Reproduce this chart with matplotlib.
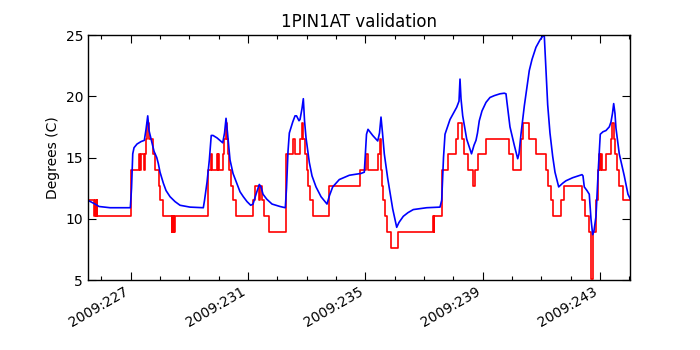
import matplotlib
matplotlib.use("Agg")
import matplotlib.pyplot as plt
from matplotlib.ticker import MultipleLocator, FuncFormatter

# Day-of-year 2009 (fractional) and temperature (deg C)
telem_days = [225.552, 225.767, 225.801, 225.818, 225.842, 225.859, 227.017, 227.300, 227.334,
              227.358, 227.470, 227.494, 227.528, 227.562, 227.620, 227.756, 227.835, 227.954,
              228.015, 228.118, 228.404, 228.424, 228.448, 228.472, 228.492, 228.516, 229.624,
              229.743, 229.777, 229.937, 229.964, 229.992, 230.015, 230.141, 230.186, 230.237,
              230.271, 230.312, 230.366, 230.424, 230.503, 230.595, 231.164, 231.252, 231.361,
              231.395, 231.481, 231.549, 231.709, 232.281, 232.527, 232.605, 232.775, 232.833,
              232.888, 232.946, 233.004, 233.058, 233.116, 233.218, 233.746, 234.820, 235.024,
              235.082, 235.423, 235.484, 235.518, 235.535, 235.569, 235.613, 235.682, 235.729,
              235.876, 236.125, 237.297, 237.324, 237.351, 237.613, 237.828, 238.090, 238.148,
              238.295, 238.353, 238.489, 238.659, 238.748, 238.830, 239.113, 239.886, 240.022,
              240.305, 240.384, 240.568, 240.816, 241.157, 241.215, 241.327, 241.385, 241.668,
              241.780, 242.384, 242.496, 242.632, 242.707, 242.775, 242.861, 242.939, 242.980,
              243.014, 243.031, 243.055, 243.201, 243.372, 243.406, 243.491, 243.518, 243.576,
              243.654, 243.791, 244.053]
telem_temps = [11.5, 10.2, 11.5, 10.2, 11.5, 10.2, 14.0, 15.3, 14.0,
               15.3, 14.0, 15.3, 16.5, 17.8, 16.5, 15.3, 14.0, 12.7,
               11.5, 10.2, 8.9, 10.2, 8.9, 10.2, 8.9, 10.2, 14.0,
               15.3, 14.0, 15.3, 14.0, 15.3, 14.0, 15.3, 16.5, 17.8,
               16.5, 15.3, 14.0, 12.7, 11.5, 10.2, 11.5, 12.7, 11.5,
               12.7, 11.5, 10.2, 8.9, 15.3, 16.5, 15.3, 16.5, 17.8,
               16.5, 15.3, 14.0, 12.7, 11.5, 10.2, 12.7, 14.0, 15.3,
               14.0, 15.3, 16.5, 15.3, 14.0, 12.7, 11.5, 10.2, 8.9,
               7.6, 8.9, 10.2, 8.9, 10.2, 14.0, 15.3, 16.5, 17.8,
               16.5, 15.3, 14.0, 12.7, 14.0, 15.3, 16.5, 15.3, 14.0,
               16.5, 17.8, 16.5, 15.3, 14.0, 12.7, 11.5, 10.2, 11.5,
               12.7, 11.5, 10.2, 8.9, 5.1, 8.9, 11.5, 14.0, 15.3,
               14.0, 15.3, 14.0, 15.3, 16.5, 17.8, 16.5, 15.3, 14.0,
               12.7, 11.5, 11.5]

model_days = [225.552, 225.790, 225.927, 226.302, 226.993, 227.034, 227.075, 227.119, 227.221,
              227.358, 227.470, 227.528, 227.586, 227.630, 227.722, 227.801, 227.893, 227.947,
              228.005, 228.118, 228.210, 228.346, 228.516, 228.687, 229.027, 229.480, 229.521,
              229.607, 229.685, 229.750, 229.811, 229.947, 230.141, 230.203, 230.254, 230.305,
              230.390, 230.492, 230.618, 230.731, 230.843, 230.969, 231.095, 231.174, 231.276,
              231.388, 231.446, 231.515, 231.641, 231.821, 232.094, 232.274, 232.315, 232.366,
              232.411, 232.527, 232.605, 232.656, 232.741, 232.775, 232.843, 232.888, 232.929,
              232.980, 233.092, 233.184, 233.320, 233.491, 233.695, 233.780, 233.889, 234.114,
              234.455, 234.854, 234.966, 235.007, 235.041, 235.092, 235.252, 235.423, 235.484,
              235.535, 235.586, 235.647, 235.763, 235.934, 236.070, 236.148, 236.295, 236.455,
              236.636, 237.092, 237.545, 237.603, 237.665, 237.716, 237.886, 238.114, 238.193,
              238.227, 238.261, 238.319, 238.455, 238.619, 238.704, 238.772, 238.823, 238.884,
              238.976, 239.113, 239.249, 239.395, 239.590, 239.736, 239.794, 239.828, 239.930,
              240.077, 240.193, 240.237, 240.305, 240.418, 240.588, 240.680, 240.816, 240.953,
              241.045, 241.099, 241.140, 241.215, 241.293, 241.385, 241.464, 241.590, 241.726,
              241.838, 242.067, 242.384, 242.418, 242.462, 242.554, 242.632, 242.690, 242.748,
              242.792, 242.861, 242.939, 243.007, 243.099, 243.201, 243.314, 243.372, 243.423,
              243.464, 243.508, 243.542, 243.654, 243.825, 243.951, 244.053]
model_temps = [11.5, 11.2, 11.0, 10.9, 10.9, 12.5, 15.3, 15.8, 16.1,
               16.3, 16.4, 17.3, 18.4, 17.2, 16.3, 15.5, 15.0, 14.5,
               13.8, 12.9, 12.3, 11.8, 11.4, 11.1, 10.95, 10.9, 11.5,
               13.0, 14.8, 16.8, 16.8, 16.6, 16.2, 17.0, 18.2, 17.0,
               14.8, 13.7, 12.9, 12.2, 11.8, 11.4, 11.1, 11.2, 12.0,
               12.8, 12.6, 12.0, 11.6, 11.2, 11.0, 10.9, 12.5, 15.5,
               17.0, 17.9, 18.4, 18.4, 18.0, 18.1, 19.0, 19.8, 18.0,
               16.6, 14.6, 13.5, 12.6, 11.8, 11.2, 11.9, 12.6, 13.2,
               13.55, 13.7, 13.8, 15.5, 16.9, 17.3, 16.8, 16.35, 17.0,
               18.3, 17.0, 15.3, 13.3, 10.8, 9.3, 9.7, 10.2, 10.5,
               10.75, 10.9, 10.95, 11.5, 15.0, 16.9, 18.1, 19.1, 19.6,
               21.4, 19.8, 18.4, 16.5, 15.3, 16.0, 16.4, 17.0, 18.0,
               18.8, 19.5, 19.9, 20.05, 20.2, 20.25, 20.2, 19.5, 17.5,
               16.0, 14.9, 15.3, 16.9, 19.2, 22.1, 23.0, 24.0, 24.6,
               24.9, 24.95, 23.0, 19.3, 17.0, 15.1, 13.8, 12.6, 12.9,
               13.1, 13.35, 13.6, 13.5, 12.6, 12.3, 12.0, 10.0, 8.7,
               9.0, 10.2, 14.0, 16.9, 17.1, 17.2, 17.5, 17.9, 18.6,
               19.4, 18.6, 17.4, 15.3, 13.5, 12.0, 11.5]

title = "1PIN1AT validation"
ylabel = "Degrees (C)"
year = 2009

plt.rcParams['font.family'] = ['DejaVu Sans']
fig = plt.figure(figsize=(7, 3.5), dpi=100)
ax = fig.add_axes([0.1257, 0.2, 0.7743, 0.7])

ax.plot(telem_days, telem_temps, color='#ff0000', lw=1.2, drawstyle='steps-post')
ax.plot(model_days, model_temps, color='#0000ff', lw=1.2)

ax.set_xlim(225.55, 244.02)
ax.set_ylim(5, 25)
ax.set_yticks([5, 10, 15, 20, 25])
ax.xaxis.set_major_locator(MultipleLocator(4, offset=3))
ax.xaxis.set_minor_locator(MultipleLocator(1))
ax.xaxis.set_major_formatter(FuncFormatter(lambda v, p: f"{year}:{int(round(v)):03d}"))

ax.tick_params(which='both', direction='in', top=True, right=True, labelsize=10)
ax.tick_params(which='major', length=6, width=0.8)
ax.tick_params(which='minor', length=3, width=0.8)
for lab in ax.get_xticklabels():
    lab.set_rotation(30)
    lab.set_ha('right')
for s in ax.spines.values():
    s.set_linewidth(1.0)

ax.set_title(title, fontsize=12)
ax.set_ylabel(ylabel, fontsize=10)

fig.savefig("out.png", dpi=100, facecolor='white')
